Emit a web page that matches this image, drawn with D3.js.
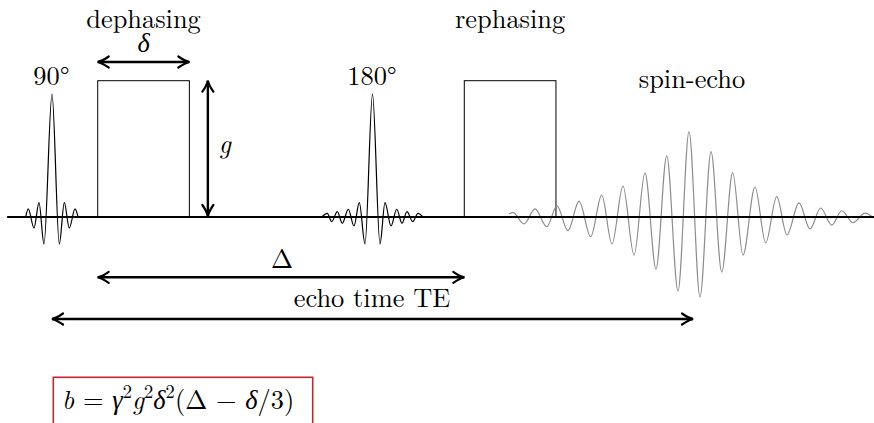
<!DOCTYPE html>
<html>
<head>
<meta charset="utf-8">
<script src="https://cdn.jsdelivr.net/npm/d3@7"></script>
<style>
  html, body { margin: 0; padding: 0; background: #fff; }
  svg { display: block; }
</style>
</head>
<body>
<svg id="chart" width="874" height="423"></svg>
<script>
// Pulsed-gradient spin-echo sequence (Stejskal–Tanner)
// time axis in arbitrary units: 90° pulse at t = 0, echo time TE = 100

// 90° excitation pulse: extrema of the sinc envelope
const pulse90T   = [-4.10, -3.70, -2.81, -2.03, -1.25, 0.00, 1.14, 1.92, 2.70, 3.59, 4.06];
const pulse90Amp = [0.000, 0.059, -0.081, 0.105, -0.198, 0.902, -0.198, 0.105, -0.081, 0.059, 0.000];

// 180° refocusing pulse
const pulse180T   = [42.08, 42.95, 43.64, 44.51, 45.29, 46.22, 47.11, 47.94, 48.83, 50.00,
                     51.17, 51.95, 52.89, 53.78, 54.60, 55.38, 56.27, 57.10, 57.88];
const pulse180Amp = [0.000, 0.027, -0.034, 0.039, -0.046, 0.057, -0.066, 0.105, -0.198, 0.902,
                     -0.198, 0.105, -0.066, 0.057, -0.046, 0.039, -0.034, 0.027, 0.000];

// spin-echo signal
const echoT   = [71.29, 71.92, 73.63, 75.35, 77.18, 78.78, 80.50, 82.22, 84.04, 85.76,
                 87.36, 89.08, 90.80, 92.51, 94.23, 95.90, 97.66, 99.38, 101.09, 102.81,
                 104.48, 106.19, 107.80, 109.67, 111.34, 113.06, 114.66, 116.54, 118.25, 119.92,
                 121.64, 123.20, 124.96, 126.83, 128.24];
const echoAmp = [0.022, 0.032, -0.051, 0.059, -0.071, 0.081, -0.101, 0.117, -0.145, 0.161,
                 -0.198, 0.227, -0.279, 0.323, -0.382, 0.448, -0.543, 0.626, -0.587, 0.479,
                 -0.404, 0.325, -0.279, 0.220, -0.189, 0.149, -0.132, 0.103, -0.088, 0.066,
                 -0.059, 0.046, -0.042, 0.029, -0.007];

// diffusion gradient lobes: start time, duration δ, amplitude g
const gradStart = [7.13, 64.32];
const gradDelta = 14.3;
const gradAmp   = 1;
const TE = 100;

// labels
const pulseLabels = ["90°", "180°"];
const pulseTimes  = [0, 50];
const gradLabels  = ["dephasing", "rephasing"];

const ROMAN = "'Latin Modern Roman'";

const svg = d3.select("#chart");
const x = d3.scaleLinear().domain([0, 100]).range([52, 693]);
const y = d3.scaleLinear().domain([0, 1]).range([217, 80.7]);

const line = d3.line()
  .x(d => x(d[0]))
  .y(d => y(d[1]))
  .curve(d3.curveMonotoneX);

const zip = (a, b) => a.map((v, i) => [v, b[i]]);

// gradient lobes
svg.selectAll("rect.grad")
  .data(gradStart)
  .join("rect")
  .attr("class", "grad")
  .attr("x", d => x(d))
  .attr("y", y(gradAmp))
  .attr("width", d => x(d + gradDelta) - x(d))
  .attr("height", y(0) - y(gradAmp))
  .attr("fill", "none")
  .attr("stroke", "#000")
  .attr("stroke-width", 1);

// echo signal (grey)
svg.append("path")
  .attr("d", line(zip(echoT, echoAmp)))
  .attr("fill", "none")
  .attr("stroke", "#8c8c8c")
  .attr("stroke-width", 1.2);

// RF pulses
[zip(pulse90T, pulse90Amp), zip(pulse180T, pulse180Amp)].forEach(pts => {
  svg.append("path")
    .attr("d", line(pts))
    .attr("fill", "none")
    .attr("stroke", "#000")
    .attr("stroke-width", 1.2);
});

// baseline
svg.append("line")
  .attr("x1", x(-7)).attr("x2", 874)
  .attr("y1", y(0)).attr("y2", y(0))
  .attr("stroke", "#000")
  .attr("stroke-width", 2);

// arrow helpers (curved "to"-style heads)
function head(px, py, ang) {
  svg.append("path")
    .attr("d", "M-11,-5.5 C-6,-2 -2.5,-0.6 0,0 C-2.5,0.6 -6,2 -11,5.5")
    .attr("fill", "none")
    .attr("stroke", "#000")
    .attr("stroke-width", 2.2)
    .attr("stroke-linecap", "round")
    .attr("transform", `translate(${px},${py}) rotate(${ang})`);
}
function dblArrow(x1, y1, x2, y2) {
  svg.append("line")
    .attr("x1", x1).attr("y1", y1).attr("x2", x2).attr("y2", y2)
    .attr("stroke", "#000").attr("stroke-width", 2.4);
  const a = Math.atan2(y2 - y1, x2 - x1) * 180 / Math.PI;
  head(x2, y2, a);
  head(x1, y1, a + 180);
}

// δ arrow
dblArrow(x(gradStart[0]), 62, x(gradStart[0] + gradDelta), 62);
// g arrow
const gx = x(gradStart[0] + gradDelta) + 18.5;
dblArrow(gx, y(gradAmp), gx, y(0) - 1);
// Δ arrow
dblArrow(x(gradStart[0]), 277.3, x(gradStart[1]), 277.3);
// TE arrow
dblArrow(x(0), 319, x(TE), 319);

const FS = 26.4;
function label(txt, cx, by, italic) {
  return svg.append("text")
    .attr("x", cx).attr("y", by)
    .attr("text-anchor", "middle")
    .style("font-family", ROMAN)
    .style("font-style", italic ? "italic" : "normal")
    .attr("font-size", FS)
    .text(txt);
}

pulseLabels.forEach((t, i) => label(t, x(pulseTimes[i]) - 0.5, 85));
gradLabels.forEach((t, i) => label(t, x(gradStart[i] + gradDelta / 2), 27.5));
label("spin-echo", 692, 88);
label("δ", x(gradStart[0] + gradDelta / 2), 52, true);
label("g", gx + 17, 153, true);
label("Δ", (x(gradStart[0]) + x(gradStart[1])) / 2 + 1, 268);
label("echo time TE", 372, 306.7);

// diffusion weighting formula
svg.append("rect")
  .attr("x", 53.3).attr("y", 377.3)
  .attr("width", 259.4).attr("height", 70)
  .attr("fill", "none")
  .attr("stroke", "#c0282d")
  .attr("stroke-width", 1.6);

const f = svg.append("text")
  .attr("x", 62).attr("y", 409)
  .style("font-family", ROMAN)
  .attr("font-size", FS);
const parts = [
  ["b", "i"], [" = ", "n"], ["γ", "i"], ["2", "s"], ["g", "i"], ["2", "s"],
  ["δ", "i"], ["2", "s"], ["(Δ − ", "n"], ["δ", "i"], ["/3)", "n"]
];
let raised = false;
parts.forEach(([t, k]) => {
  const s = f.append("tspan").text(t);
  if (k === "i") s.style("font-style", "italic");
  if (k === "s") {
    s.attr("font-size", 18.5).attr("dy", -11);
    raised = true;
  } else if (raised) {
    s.attr("dy", 11);
    raised = false;
  }
});
</script>
</body>
</html>
